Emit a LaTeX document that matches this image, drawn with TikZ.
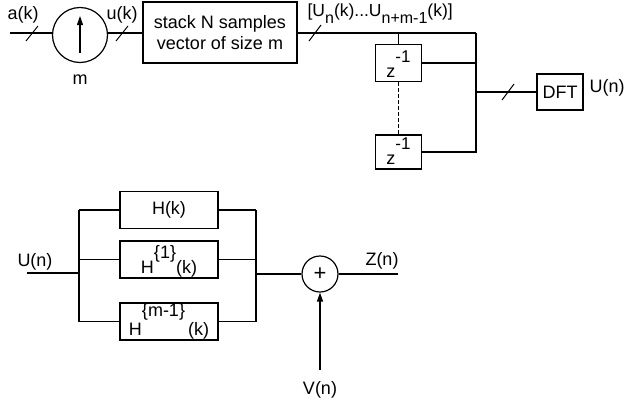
\documentclass[tikz,border=0pt]{standalone}
\usepackage{fontspec}
\setmainfont{Liberation Sans}
\usetikzlibrary{arrows.meta}
\newcommand\upx[3]{\raisebox{#1}{\fontsize{#2}{#2}\selectfont #3}}
\newcommand\dnx[1]{\raisebox{-7pt}{\fontsize{16}{16}\selectfont #1}}
\begin{document}
\begin{tikzpicture}[x=1pt,y=-1pt,line width=1.2pt,
  box/.style={draw,rectangle,inner sep=0pt},
  lbl/.style={inner sep=0pt,font=\fontsize{18}{21}\selectfont},
  slash/.style={line width=1pt},
  every node/.style={font=\fontsize{18}{21}\selectfont}]
\useasboundingbox (0,0) rectangle (625,405);
% ---- top row
\coordinate (ain) at (10,33);
\node[draw,circle,minimum size=55pt,inner sep=0pt] (samp) at (80,35) {};
\coordinate (arrB) at (80,53);
\coordinate (arrT) at (80,16);
\draw[-{Triangle[length=9pt,width=6pt]}] (arrB) -- (arrT);
\node[lbl] (mlab) at (80,80) {m};
\node[lbl] (alab) at (23,15) {a(k)};
\node[lbl] (ulab) at (122,15) {u(k)};
\node[box,minimum width=154pt,minimum height=61pt,align=center] (stack) at (220,32.5) {stack N samples\\vector of size m};
\draw (ain) -- (samp.west |- ain);
\draw (samp.east |- ain) -- (stack.west |- ain);
\draw[slash] (26,41) -- (38,26);
\draw[slash] (116,41) -- (128,26);
% label of vector
\node[lbl,anchor=base west,font=\fontsize{17.5}{20}\selectfont] (veclab) at (307,16)
  {[U\dnx{n}(k)...U\dnx{n+m-1}(k)]};
\coordinate (bustop) at (476,33);
\draw (stack.east |- bustop) -- (bustop);
\draw[slash] (309,41) -- (321,25);
\node[box,minimum width=46pt,minimum height=37pt,text height=32pt,text depth=4pt] (z1) at (398.5,63)
  {z\upx{15pt}{17}{-1}};
\node[box,minimum width=46pt,minimum height=34pt,text height=29pt,text depth=4pt] (z2) at (398.5,152)
  {z\upx{15pt}{17}{-1}};
\coordinate (ztap) at (398.5,33);
\draw (ztap) -- (z1.north);
\draw[dashed,dash pattern=on 4pt off 2pt] (z1.south) -- (z2.north);
\coordinate (busbot) at (476,153);
\draw (bustop) -- (busbot);
\draw (z1.east) -- (z1.east -| bustop);
\draw (z2.east) -- (z2.east -| bustop);
\node[box,minimum width=46pt,minimum height=36pt] (dft) at (560,92) {DFT};
\coordinate (busdft) at (476,92);
\draw (busdft) -- (dft.west);
\draw[slash] (502,100) -- (514,84);
\node[lbl,anchor=west] (Ulab) at (589,88) {U(n)};
% ---- bottom row
\node[box,minimum width=98pt,minimum height=37pt] (h0) at (169,210) {H(k)};
\node[box,minimum width=98pt,minimum height=37pt,text height=32pt,text depth=4pt] (h1) at (169,259.5)
  {H\upx{15pt}{18}{\{1\}}(k)};
\node[box,minimum width=98pt,minimum height=37pt,text height=32pt,text depth=4pt] (h2) at (169,321.5)
  {H\upx{19pt}{18}{\{m-1\}}\,(k)};
\coordinate (uin) at (27,273);
\coordinate (lbus) at (79,273);
\node[lbl] (Unlab) at (35,262) {U(n)};
\draw (uin) -- (lbus);
\draw (h0.west -| lbus) -- (h2.west -| lbus);
\draw (h0.west -| lbus) -- (h0.west);
\draw (h1.west -| lbus) -- (h1.west);
\draw (h2.west -| lbus) -- (h2.west);
\coordinate (rbus) at (256,274);
\draw (h0.east -| rbus) -- (h2.east -| rbus);
\draw (h0.east) -- (h0.east -| rbus);
\draw (h1.east) -- (h1.east -| rbus);
\draw (h2.east) -- (h2.east -| rbus);
\node[draw,circle,minimum size=36pt,inner sep=0pt,font=\fontsize{22}{22}\selectfont] (sum) at (320,274) {+};
\draw (rbus) -- (sum.west);
\coordinate (zout) at (398,274);
\draw (sum.east) -- (zout);
\node[lbl] (Zlab) at (382,261) {Z(n)};
\coordinate (vin) at (320,370);
\draw[-{Triangle[length=9pt,width=6pt]}] (vin) -- (sum.south);
\node[lbl] (Vlab) at (320,390) {V(n)};
\end{tikzpicture}
\end{document}
